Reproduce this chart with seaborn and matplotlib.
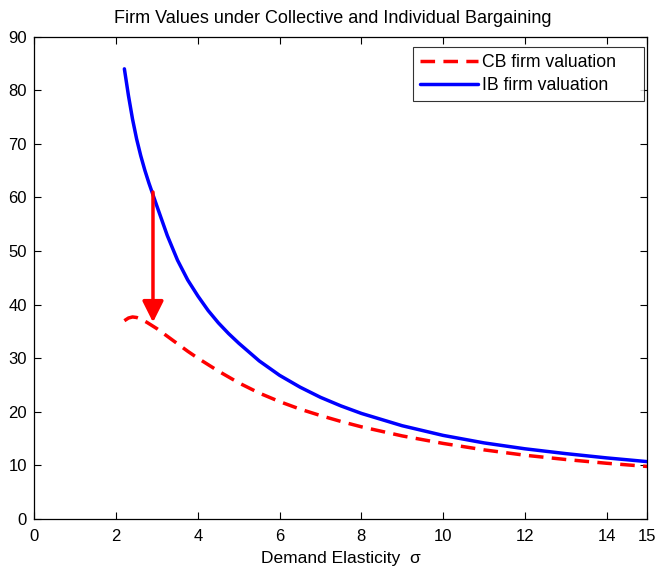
import matplotlib
matplotlib.use("Agg")
import matplotlib.pyplot as plt
import seaborn as sns
import pandas as pd

sigma_ib = [2.2, 2.3, 2.4, 2.5, 2.6, 2.7, 2.8, 2.9, 3.0, 3.25, 3.5, 3.75, 4.0, 4.25, 4.5, 4.75,
            5.0, 5.5, 6.0, 6.5, 7.0, 7.5, 8.0, 9.0, 10.0, 11.0, 12.0, 13.0, 14.0, 15.0]
ib_value = [84.0, 79.0, 74.6, 70.9, 67.8, 65.1, 62.7, 60.5, 58.3, 52.9, 48.3, 44.6, 41.6, 38.9, 36.6, 34.6,
            32.8, 29.5, 26.8, 24.6, 22.7, 21.1, 19.7, 17.4, 15.6, 14.2, 13.1, 12.2, 11.4, 10.7]

sigma_cb = [2.2, 2.3, 2.4, 2.5, 2.6, 2.75, 3.0, 3.25, 3.5, 3.75, 4.0, 4.5, 5.0, 5.5, 6.0,
            6.5, 7.0, 7.5, 8.0, 9.0, 10.0, 11.0, 12.0, 13.0, 14.0, 15.0]
cb_value = [37.0, 37.5, 37.7, 37.6, 37.3, 36.7, 35.5, 34.1, 32.7, 31.3, 30.0, 27.6, 25.4, 23.5, 21.9,
            20.5, 19.3, 18.2, 17.2, 15.5, 14.1, 12.9, 11.9, 11.1, 10.4, 9.8]

arrow_sigma = 2.9
arrow_from = 61.0
arrow_to = 36.7

x_ticks = [0, 2, 4, 6, 8, 10, 12, 14, 15]
y_ticks = [0, 10, 20, 30, 40, 50, 60, 70, 80, 90]

sns.set_theme(style="ticks")
plt.rcParams['font.family'] = ['Liberation Sans', 'DejaVu Sans']
plt.rcParams['text.color'] = 'black'
plt.rcParams['axes.labelcolor'] = 'black'

df_cb = pd.DataFrame({"sigma": sigma_cb, "value": cb_value})
df_ib = pd.DataFrame({"sigma": sigma_ib, "value": ib_value})

fig = plt.figure(figsize=(6.58, 5.68), dpi=100)
ax = fig.add_axes([0.0524, 0.0863, 0.9315, 0.8491])

sns.lineplot(data=df_cb, x="sigma", y="value", ax=ax, color=(1, 0, 0), lw=2.5,
             label="CB firm valuation", linestyle=(0, (4.2, 2.4)), sort=False)
sns.lineplot(data=df_ib, x="sigma", y="value", ax=ax, color=(0, 0, 1), lw=2.5,
             label="IB firm valuation", sort=False)

ax.annotate("", xy=(arrow_sigma, arrow_to), xytext=(arrow_sigma, arrow_from),
            arrowprops=dict(arrowstyle="-|>,head_length=0.4,head_width=0.2", color=(1, 0, 0),
                            lw=2.5, mutation_scale=32, shrinkA=0, shrinkB=0))

ax.set_xlim(0, 15)
ax.set_ylim(0, 90)
ax.set_xticks(x_ticks)
ax.set_yticks(y_ticks)
ax.tick_params(direction="in", length=5, width=0.8, top=True, right=True,
               labelsize=12, colors="black")
ax.tick_params(axis="x", pad=7.5)
ax.tick_params(axis="y", pad=5.5)
for s in ax.spines.values():
    s.set_visible(True)
    s.set_linewidth(0.9)
    s.set_color("black")

fig.text(0.506, 1 - 18.5 / 568, "Firm Values under Collective and Individual Bargaining",
         fontsize=13, ha="center", va="center", color="black")
ax.set_xlabel("Demand Elasticity  σ", fontsize=12.5, color="black")
ax.xaxis.set_label_coords(0.5, -0.081)
ax.xaxis.label.set_verticalalignment("center")
ax.set_ylabel("")

leg = ax.legend(loc="upper left", bbox_to_anchor=(0.6175, 0.86, 0.3768, 0.119), mode="expand",
                fontsize=12.7, frameon=True, fancybox=False,
                edgecolor="black", handlelength=3.3, borderpad=0.4, labelspacing=0.33,
                handletextpad=0.23, borderaxespad=0.0)
leg.get_frame().set_linewidth(0.8)
for t in leg.get_texts():
    t.set_color("black")

fig.savefig("out.png", dpi=100)
